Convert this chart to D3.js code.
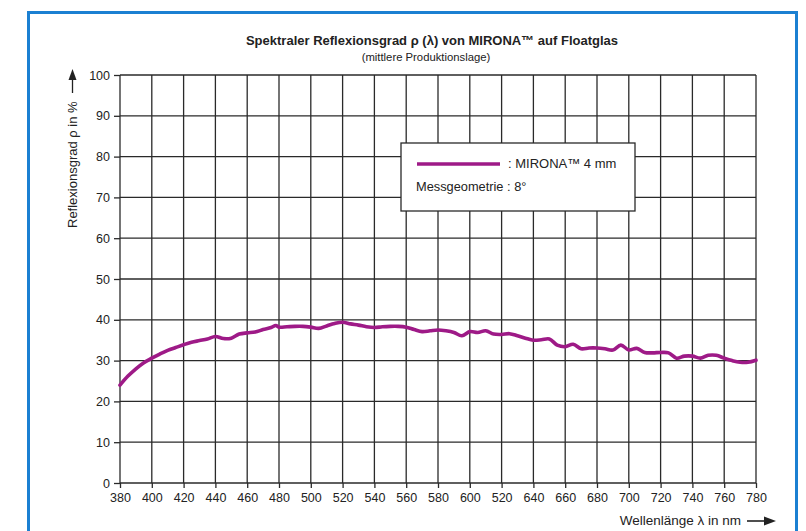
<!DOCTYPE html>
<html><head><meta charset="utf-8">
<script src="https://cdn.jsdelivr.net/npm/d3@7"></script>
<style>
html,body{margin:0;padding:0;background:#fff;}
svg{display:block;}
text{font-family:"Liberation Sans",Arial,sans-serif;fill:#222;}
</style></head>
<body>
<script>
// ---- data ----
const wavelengths = [380,385,390,395,400,405,410,415,420,425,430,435,440,445,450,455,460,465,470,475,478,480,485,490,495,500,505,510,515,520,525,530,535,540,545,550,555,560,565,570,575,580,585,590,595,600,605,610,615,620,625,630,635,640,645,650,655,660,665,670,675,680,685,690,695,700,705,710,715,720,725,730,735,740,745,750,755,760,765,770,775,780];
const reflectance = [24.0,26.2,28.0,29.5,30.6,31.6,32.5,33.2,33.9,34.5,34.9,35.3,35.9,35.4,35.5,36.5,36.8,37.0,37.6,38.1,38.6,38.2,38.3,38.4,38.4,38.2,37.9,38.5,39.1,39.4,39.0,38.7,38.3,38.1,38.3,38.4,38.4,38.2,37.6,37.1,37.3,37.5,37.3,36.9,36.1,37.1,36.9,37.3,36.5,36.4,36.6,36.1,35.5,35.0,35.1,35.3,33.8,33.4,34.0,32.9,33.1,33.1,32.9,32.6,33.8,32.6,33.0,32.0,31.9,32.0,31.9,30.6,31.1,31.1,30.6,31.3,31.3,30.6,30.0,29.6,29.6,30.1];
const xTickValues = [380,400,420,440,460,480,500,520,540,560,580,600,620,640,660,680,700,720,740,760,780];
const xTickLabels = ["380","400","420","440","460","480","500","520","540","560","580","600","520","640","660","680","700","720","740","760","780"];
const yTickValues = [0,10,20,30,40,50,60,70,80,90,100];
const titleText = "Spektraler Reflexionsgrad \u03C1 (\u03BB) von MIRONA\u2122 auf Floatglas";
const subtitleText = "(mittlere Produktionslage)";
const yLabelText = "Reflexionsgrad \u03C1 in %";
const xLabelText = "Wellenl\u00E4nge \u03BB in nm";
const legendSeries = ": MIRONA\u2122 4 mm";
const legendNote = "Messgeometrie : 8\u00B0";

const W = 806, H = 531;
const svg = d3.select("body").append("svg").attr("width",W).attr("height",H);

// blue frame
svg.append("rect").attr("x",28.5).attr("y",12.5).attr("width",768).attr("height",540)
  .attr("fill","none").attr("stroke","#1b80d2").attr("stroke-width",3);

const x = d3.scaleLinear().domain([380,780]).range([120,756]);
const y = d3.scaleLinear().domain([0,100]).range([483,75]);
const gridColor = "#2a2a2a";

// grid
const g = svg.append("g");
g.selectAll("line.v").data(xTickValues).join("line")
  .attr("x1",d=>x(d)).attr("x2",d=>x(d)).attr("y1",y(0)).attr("y2",y(100))
  .attr("stroke",gridColor).attr("stroke-width",1.3);
g.selectAll("line.h").data(yTickValues).join("line")
  .attr("x1",x(380)).attr("x2",x(780)).attr("y1",d=>y(d)).attr("y2",d=>y(d))
  .attr("stroke",gridColor).attr("stroke-width",1.3);

// axes
const xAxis = d3.axisBottom(x).tickValues(xTickValues).tickSize(5).tickPadding(5)
  .tickFormat((d,i)=>xTickLabels[i]);
const gx = svg.append("g").attr("transform",`translate(0,${y(0)})`).call(xAxis);
gx.select(".domain").remove();
gx.selectAll("line").attr("stroke",gridColor).attr("stroke-width",1.3);
gx.selectAll("text").attr("font-size",12.5).attr("fill","#222").attr("font-family","Liberation Sans, Arial, sans-serif");

const yAxis = d3.axisLeft(y).tickValues(yTickValues).tickSize(6).tickPadding(4);
const gy = svg.append("g").attr("transform",`translate(${x(380)},0)`).call(yAxis);
gy.select(".domain").remove();
gy.selectAll("line").attr("stroke",gridColor).attr("stroke-width",1.3);
gy.selectAll("text").attr("font-size",12.5).attr("fill","#222").attr("font-family","Liberation Sans, Arial, sans-serif");

// curve
const line = d3.line().x((d,i)=>x(wavelengths[i])).y(d=>y(d)).curve(d3.curveCatmullRom.alpha(0.5));
svg.append("path").datum(reflectance).attr("d",line)
  .attr("fill","none").attr("stroke","#9e1a87").attr("stroke-width",3.6)
  .attr("stroke-linejoin","round").attr("stroke-linecap","round");

// title
svg.append("text").attr("x",432).attr("y",45).attr("text-anchor","middle")
  .attr("font-size",13).attr("font-weight","bold").text(titleText);
svg.append("text").attr("x",426).attr("y",61).attr("text-anchor","middle")
  .attr("font-size",11.3).text(subtitleText);

// legend
const lg = svg.append("g");
lg.append("rect").attr("x",401).attr("y",143).attr("width",234).attr("height",68)
  .attr("fill","#fff").attr("stroke",gridColor).attr("stroke-width",1.3);
lg.append("line").attr("x1",417).attr("x2",500).attr("y1",164).attr("y2",164)
  .attr("stroke","#9e1a87").attr("stroke-width",3.6);
lg.append("text").attr("x",508).attr("y",168).attr("font-size",13).text(legendSeries);
lg.append("text").attr("x",416).attr("y",191).attr("font-size",12.8).text(legendNote);

// y label with arrow
svg.append("text").attr("transform","translate(77,228) rotate(-90)")
  .attr("font-size",13).text(yLabelText);
svg.append("line").attr("x1",72.5).attr("x2",72.5).attr("y1",93).attr("y2",76)
  .attr("stroke","#222").attr("stroke-width",1.3);
svg.append("path").attr("d","M72.5,69 L68.5,80 L76.5,80 Z").attr("fill","#222");

// x label with arrow
svg.append("text").attr("x",741).attr("y",525).attr("text-anchor","end")
  .attr("font-size",13.5).text(xLabelText);
svg.append("line").attr("x1",747).attr("x2",766).attr("y1",521).attr("y2",521)
  .attr("stroke","#222").attr("stroke-width",1.6);
svg.append("path").attr("d","M776,521 L764,516.5 L764,525.5 Z").attr("fill","#222");
</script>
</body></html>
